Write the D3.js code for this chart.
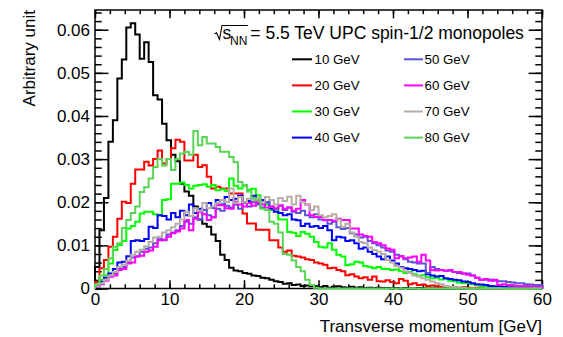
<!DOCTYPE html>
<html>
<head>
<meta charset="utf-8">
<script src="https://cdn.jsdelivr.net/npm/d3@7"></script>
<style>
  body { margin: 0; background: #fff; }
  svg { display: block; }
</style>
</head>
<body>
<svg id="chart" width="563" height="337" font-family="Liberation Sans, Arial, Helvetica, sans-serif"></svg>
<script>
// histogram binning: 100 bins of 0.6 GeV from 0 to 60
const binWidth = 0.6;
const xTicks = [0, 10, 20, 30, 40, 50, 60];
const xTickLabels = ["0", "10", "20", "30", "40", "50", "60"];
const yTicks = [0, 0.01, 0.02, 0.03, 0.04, 0.05, 0.06];
const yTickLabels = ["0", "0.01", "0.02", "0.03", "0.04", "0.05", "0.06"];
const seriesNames = ["10 GeV", "20 GeV", "30 GeV", "40 GeV", "50 GeV", "60 GeV", "70 GeV", "80 GeV"];

const h10 = [
  0.005, 0.0135, 0.021, 0.034, 0.039, 0.0487, 0.0531, 0.0605, 0.0615, 0.0589,
  0.0533, 0.0571, 0.0525, 0.0448, 0.0438, 0.0382, 0.0344, 0.031, 0.0295, 0.0243,
  0.0225, 0.0215, 0.019, 0.016, 0.015, 0.0143, 0.0125, 0.011, 0.0078, 0.0066,
  0.0048, 0.0042, 0.004, 0.0036, 0.0034, 0.003, 0.0029, 0.0025, 0.0024, 0.002,
  0.0017, 0.0015, 0.0011, 0.0012, 0.0008, 0.0009, 0.0006, 0.0007, 0.0005, 0.0005,
  0.0003, 0.0006, 0.0002, 0.0004, 0.0005, 0.0003, 0.0002, 0.0004, 0.0002, 0.0003,
  0.0001, 0.0002, 0.0001, 0.0002, 0.0001, 0.0001, 0, 0.0001, 0, 0.0001,
  0, 0, 0.0001, 0, 0, 0, 0, 0, 0, 0,
  0, 0, 0, 0, 0, 0, 0, 0, 0, 0,
  0, 0, 0, 0, 0, 0, 0, 0, 0, 0
];
const h20 = [
  0.0015, 0.0047, 0.0066, 0.0097, 0.012, 0.0162, 0.0201, 0.0198, 0.0243, 0.0276,
  0.0276, 0.0294, 0.0285, 0.030, 0.032, 0.029, 0.030, 0.0325, 0.0345, 0.034,
  0.0297, 0.0297, 0.031, 0.0282, 0.0286, 0.0259, 0.0232, 0.0236, 0.0232, 0.0232,
  0.022, 0.022, 0.022, 0.0174, 0.0151, 0.0151, 0.0136, 0.0136, 0.0136, 0.0112,
  0.0112, 0.0095, 0.0085, 0.0088, 0.0076, 0.0074, 0.0072, 0.0068, 0.0066, 0.006,
  0.0058, 0.0055, 0.0047, 0.0048, 0.0043, 0.004, 0.0031, 0.0033, 0.0028, 0.0024,
  0.0026, 0.002, 0.0028, 0.0017, 0.0016, 0.0019, 0.0015, 0.0012, 0.0022, 0.0018,
  0.001, 0.0012, 0.0008, 0.0009, 0.0006, 0.0007, 0.0005, 0.0004, 0.0005, 0.0003,
  0.0003, 0.0002, 0.0003, 0.0002, 0.0001, 0.0002, 0.0001, 0.0001, 0, 0.0001,
  0, 0, 0, 0, 0, 0, 0, 0, 0, 0
];
const h30 = [
  0.0008, 0.002, 0.0031, 0.0058, 0.0089, 0.0101, 0.011, 0.0139, 0.0145, 0.0155,
  0.0174, 0.0178, 0.0178, 0.0172, 0.017, 0.0205, 0.0207, 0.0243, 0.0243, 0.0246,
  0.024, 0.0232, 0.0238, 0.024, 0.0242, 0.0236, 0.024, 0.0228, 0.023, 0.0226,
  0.0255, 0.0238, 0.0232, 0.0238, 0.0229, 0.0231, 0.0216, 0.0201, 0.0195, 0.0182,
  0.0183, 0.016, 0.016, 0.0131, 0.0129, 0.0122, 0.0131, 0.0127, 0.012, 0.0108,
  0.0097, 0.0095, 0.0105, 0.009, 0.0078, 0.0074, 0.0054, 0.0056, 0.0062, 0.006,
  0.0052, 0.005, 0.0047, 0.005, 0.0046, 0.0045, 0.0043, 0.0044, 0.004, 0.0036,
  0.0038, 0.0033, 0.003, 0.0031, 0.0026, 0.0024, 0.0025, 0.0021, 0.0022, 0.0018,
  0.0017, 0.0014, 0.0012, 0.0013, 0.001, 0.0008, 0.0006, 0.0004, 0.0002, 0.0001,
  0.0001, 0.0001, 0, 0, 0, 0, 0, 0, 0, 0
];
const h40 = [
  0.0005, 0.0015, 0.0025, 0.0035, 0.0045, 0.006, 0.0062, 0.0075, 0.011, 0.0112,
  0.011, 0.0115, 0.0143, 0.014, 0.017, 0.0168, 0.016, 0.0175, 0.0165, 0.018,
  0.017, 0.0195, 0.0175, 0.0185, 0.0182, 0.0198, 0.0187, 0.0205, 0.0195, 0.0212,
  0.0205, 0.0208, 0.0215, 0.02, 0.0203, 0.0215, 0.0198, 0.0205, 0.02, 0.0185,
  0.0178, 0.0175, 0.017, 0.0172, 0.016, 0.0158, 0.0145, 0.015, 0.0143, 0.0145,
  0.014, 0.0145, 0.0135, 0.0112, 0.012, 0.0118, 0.011, 0.0112, 0.0105, 0.0092,
  0.0095, 0.0085, 0.008, 0.0074, 0.0068, 0.0074, 0.0065, 0.0058, 0.005, 0.0047,
  0.0045, 0.0043, 0.004, 0.0041, 0.0033, 0.003, 0.0028, 0.0029, 0.0024, 0.0022,
  0.002, 0.0019, 0.0016, 0.0015, 0.0012, 0.001, 0.0009, 0.0008, 0.0006, 0.0005,
  0.0005, 0.0004, 0.0003, 0.0003, 0.0002, 0.0002, 0.0001, 0.0001, 0.0001, 0
];
const h50 = [
  0.0004, 0.0012, 0.002, 0.0028, 0.0035, 0.0045, 0.005, 0.006, 0.0072, 0.0075,
  0.0085, 0.0092, 0.0095, 0.0105, 0.0115, 0.0112, 0.0125, 0.013, 0.0135, 0.0145,
  0.0155, 0.015, 0.0165, 0.016, 0.0182, 0.017, 0.0165, 0.0185, 0.018, 0.0192,
  0.0188, 0.0195, 0.0185, 0.0198, 0.019, 0.02, 0.0195, 0.0188, 0.02, 0.019,
  0.0185, 0.0192, 0.0182, 0.0188, 0.0178, 0.0175, 0.018, 0.017, 0.0165, 0.0172,
  0.016, 0.0158, 0.015, 0.0155, 0.0142, 0.0138, 0.014, 0.0128, 0.0125, 0.0118,
  0.012, 0.011, 0.0105, 0.01, 0.0095, 0.0088, 0.0085, 0.0078, 0.0075, 0.0068,
  0.0062, 0.006, 0.0058, 0.0058, 0.0036, 0.005, 0.0045, 0.0043, 0.0041, 0.0041,
  0.0038, 0.0036, 0.0035, 0.0035, 0.003, 0.0025, 0.002, 0.002, 0.002, 0.0018,
  0.0017, 0.0017, 0.0015, 0.0014, 0.0012, 0.0012, 0.001, 0.0009, 0.0008, 0.0008
];
const h60 = [
  0.0004, 0.001, 0.0018, 0.0027, 0.003, 0.0043, 0.0045, 0.0058, 0.006, 0.0074,
  0.0076, 0.0085, 0.0088, 0.0097, 0.0112, 0.0113, 0.012, 0.0128, 0.0132, 0.0139,
  0.0159, 0.0135, 0.0162, 0.0178, 0.0172, 0.0159, 0.0165, 0.0193, 0.0193, 0.0186,
  0.0185, 0.0201, 0.0195, 0.019, 0.0198, 0.0192, 0.02, 0.0195, 0.0188, 0.019,
  0.0186, 0.0193, 0.0185, 0.0188, 0.018, 0.0185, 0.0205, 0.0195, 0.017, 0.0166,
  0.0166, 0.0159, 0.0159, 0.0157, 0.0162, 0.0159, 0.0159, 0.0139, 0.0139, 0.0125,
  0.0122, 0.012, 0.0108, 0.0105, 0.01, 0.0093, 0.009, 0.007, 0.0075, 0.007,
  0.0072, 0.0074, 0.0062, 0.0078, 0.0065, 0.0043, 0.0042, 0.0043, 0.0041, 0.0043,
  0.0038, 0.0038, 0.0035, 0.0032, 0.003, 0.0025, 0.002, 0.0022, 0.0018, 0.002,
  0.0008, 0.001, 0.0008, 0.0007, 0.0006, 0.0006, 0.0005, 0.0005, 0.0004, 0.0004
];
const h70 = [
  0.0005, 0.0012, 0.002, 0.003, 0.0038, 0.005, 0.0055, 0.0065, 0.0078, 0.0085,
  0.009, 0.0098, 0.0108, 0.0118, 0.012, 0.013, 0.0135, 0.0142, 0.015, 0.016,
  0.0178, 0.0168, 0.0186, 0.018, 0.0198, 0.0186, 0.019, 0.0198, 0.0205, 0.02,
  0.0232, 0.0198, 0.0212, 0.02, 0.0208, 0.0205, 0.021, 0.02, 0.0212, 0.0205,
  0.0195, 0.021, 0.0203, 0.0213, 0.0195, 0.0215, 0.02, 0.0195, 0.0182, 0.019,
  0.017, 0.0165, 0.0168, 0.0172, 0.016, 0.0143, 0.015, 0.013, 0.012, 0.0108,
  0.0105, 0.0095, 0.0089, 0.0085, 0.008, 0.0066, 0.006, 0.0052, 0.0048, 0.004,
  0.0036, 0.003, 0.0028, 0.0024, 0.002, 0.0016, 0.0012, 0.001, 0.0006, 0.0004,
  0.0003, 0.0002, 0.0001, 0, 0, 0, 0, 0, 0, 0,
  0, 0, 0, 0, 0, 0, 0, 0, 0, 0
];
const h80 = [
  0.001, 0.003, 0.0045, 0.007, 0.0097, 0.0105, 0.014, 0.0159, 0.0175, 0.019,
  0.0224, 0.0235, 0.0255, 0.0282, 0.03, 0.0285, 0.03, 0.0275, 0.03, 0.0313,
  0.0317, 0.031, 0.0365, 0.0332, 0.0351, 0.0336, 0.0336, 0.0328, 0.0317, 0.0317,
  0.0305, 0.0293, 0.0247, 0.024, 0.0225, 0.021, 0.0205, 0.0185, 0.0182, 0.0155,
  0.015, 0.013, 0.008, 0.0078, 0.0065, 0.005, 0.004, 0.002, 0.0008, 0.0002,
  0, 0, 0, 0, 0, 0, 0, 0, 0, 0,
  0, 0, 0, 0, 0, 0, 0, 0, 0, 0,
  0, 0, 0, 0, 0, 0, 0, 0, 0, 0,
  0, 0, 0, 0, 0, 0, 0, 0, 0, 0,
  0, 0, 0, 0, 0, 0, 0, 0, 0, 0
];

const histos = [h10, h20, h30, h40, h50, h60, h70, h80];
const colors = ["#000000", "#ff0000", "#00ff00", "#0000ff", "#5954d8", "#ff00ff", "#b8ada5", "#59d454"];

const svg = d3.select("#chart");
const W = +svg.attr("width"), H = +svg.attr("height");
const margin = { top: 10, right: 21, bottom: 48.5, left: 95 };
const width = W - margin.left - margin.right;
const height = H - margin.top - margin.bottom;
const fontSize = 17;
const fontFamily = "Liberation Sans, Arial, Helvetica, sans-serif";

svg.append("rect").attr("width", W).attr("height", H).attr("fill", "#fff");

const g = svg.append("g").attr("transform", "translate(" + margin.left + "," + margin.top + ")");

const x = d3.scaleLinear().domain([0, 60]).range([0, width]);
// ROOT leaves 5% headroom above the highest bin
const yMax = d3.max(histos, h => d3.max(h)) * 1.05;
const y = d3.scaleLinear().domain([0, yMax]).range([height, 0]);

const xMinor = d3.range(0, 60.001, 2);
const yMinor = d3.range(0, yMax, 0.002);
const xTickLen = 0.03 * height, yTickLen = 0.03 * width;

function clean(sel) {
  sel.attr("font-family", fontFamily).attr("font-size", fontSize);
  sel.select(".domain").remove();
  sel.selectAll(".tick line").attr("stroke", "#000").attr("stroke-width", 1.5);
  sel.selectAll("text").attr("fill", "#000");
}

// bottom axis
g.append("g").attr("transform", "translate(0," + height + ")")
  .call(d3.axisBottom(x).tickValues(xMinor).tickSize(-xTickLen / 2).tickFormat(""))
  .call(clean);
g.append("g").attr("transform", "translate(0," + height + ")")
  .call(d3.axisBottom(x).tickValues(xTicks).tickSize(-xTickLen).tickPadding(4.4)
    .tickFormat((d, i) => xTickLabels[i]))
  .call(clean);
// top axis
g.append("g")
  .call(d3.axisTop(x).tickValues(xMinor).tickSize(-xTickLen / 2).tickFormat(""))
  .call(clean);
g.append("g")
  .call(d3.axisTop(x).tickValues(xTicks).tickSize(-xTickLen).tickFormat(""))
  .call(clean);
// left axis
g.append("g")
  .call(d3.axisLeft(y).tickValues(yMinor).tickSize(-yTickLen / 2).tickFormat(""))
  .call(clean);
g.append("g")
  .call(d3.axisLeft(y).tickValues(yTicks).tickSize(-yTickLen).tickPadding(5)
    .tickFormat((d, i) => yTickLabels[i]))
  .call(clean);
// right axis
g.append("g").attr("transform", "translate(" + width + ",0)")
  .call(d3.axisRight(y).tickValues(yMinor).tickSize(-yTickLen / 2).tickFormat(""))
  .call(clean);
g.append("g").attr("transform", "translate(" + width + ",0)")
  .call(d3.axisRight(y).tickValues(yTicks).tickSize(-yTickLen).tickFormat(""))
  .call(clean);

g.append("rect")
  .attr("width", width).attr("height", height)
  .attr("fill", "none").attr("stroke", "#000").attr("stroke-width", 1.5);

// step outline of each histogram
const line = d3.line()
  .x(d => x(d[0]))
  .y(d => y(d[1]))
  .curve(d3.curveStepAfter);

histos.forEach((h, k) => {
  const pts = [[0, 0]];
  h.forEach((v, i) => pts.push([i * binWidth, v]));
  pts.push([h.length * binWidth, 0]);
  g.append("path")
    .datum(pts)
    .attr("fill", "none")
    .attr("stroke", colors[k])
    .attr("stroke-width", 2)
    .attr("d", line);
});

// axis titles
svg.append("text")
  .attr("x", margin.left + width).attr("y", 332)
  .attr("text-anchor", "end").attr("font-size", fontSize)
  .text("Transverse momentum [GeV]");
svg.append("text")
  .attr("transform", "translate(35," + margin.top + ") rotate(-90)")
  .attr("text-anchor", "end").attr("font-size", fontSize)
  .text("Arbitrary unit");

// header with the square-root sign
svg.append("text").attr("x", 222.5).attr("y", 39).attr("font-size", 17.5).text("s");
const nnTxt = svg.append("text").attr("x", 230).attr("y", 45).attr("font-size", 12).text("NN");
const rootEnd = 230 + nnTxt.node().getComputedTextLength() + 0.5;
svg.append("path")
  .attr("d", "M214.5,34 L216.5,32.8 L219.5,39.5 L222,25.5 L" + rootEnd + ",25.5")
  .attr("fill", "none").attr("stroke", "#000").attr("stroke-width", 1.1);
svg.append("text").attr("x", rootEnd + 2.5).attr("y", 39).attr("font-size", 17.5)
  .text("= 5.5 TeV UPC spin-1/2 monopoles");

// legend, two columns of four
const legendCols = [{ x0: 292, x1: 312, tx: 314.5 }, { x0: 404, x1: 423, tx: 424.5 }];
const legendRow0 = 59.3, legendStep = 26.1;
seriesNames.forEach((name, k) => {
  const col = legendCols[Math.floor(k / 4)];
  const ly = legendRow0 + (k % 4) * legendStep;
  svg.append("line")
    .attr("x1", col.x0).attr("x2", col.x1).attr("y1", ly).attr("y2", ly)
    .attr("stroke", colors[k]).attr("stroke-width", 2);
  svg.append("text")
    .attr("x", col.tx).attr("y", ly).attr("dy", "0.35em")
    .attr("font-size", 13.3).text(name);
});
</script>
</body>
</html>
